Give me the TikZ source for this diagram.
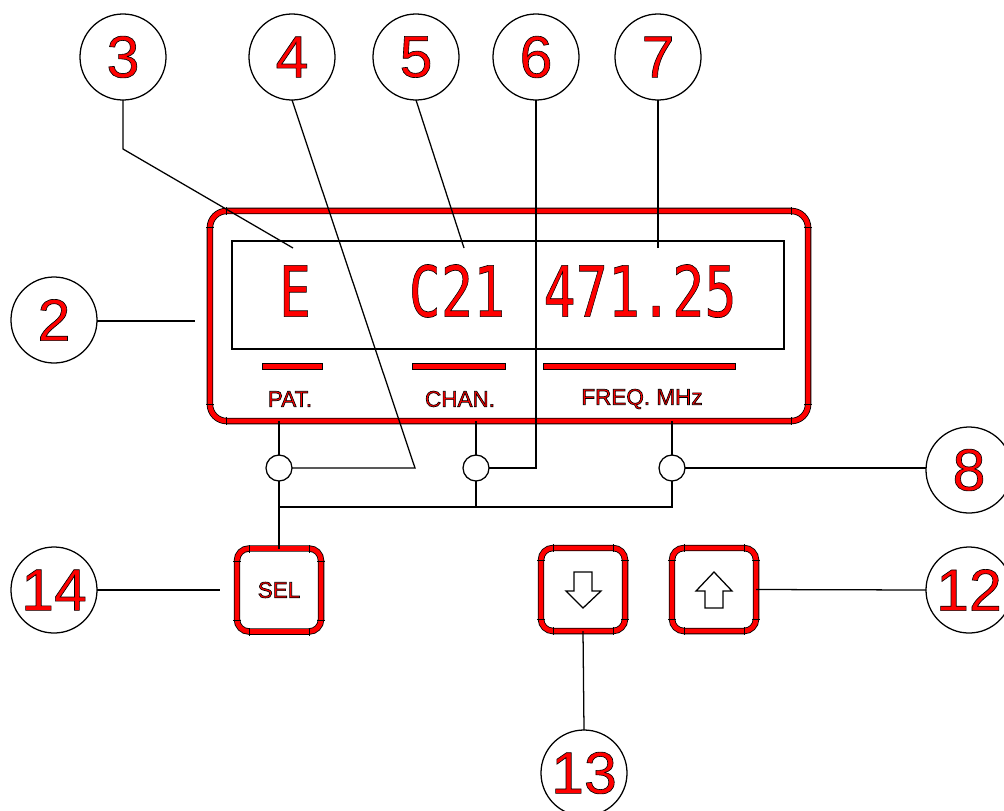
\documentclass[tikz,border=0pt]{standalone}
\usepackage{fontspec}
\setmainfont{Liberation Sans}
\newfontfamily\dispfont{DejaVu Sans Mono}
\usepackage{graphicx}
\usepackage{tikz}
\usetikzlibrary{positioning}
\definecolor{PanelRed}{RGB}{255,0,0}

% red letters with a thin black rim (fill, then stroke)
\newcommand{\redtxt}[1]{{\color{PanelRed}\special{pdf:literal direct q 0 0 0 RG 0.45 w 2 Tr}#1\special{pdf:literal direct Q}}}
% small black marks where the corner arcs meet the straight parts
\newcommand{\bandticks}[5]{%
  \foreach \tx in {#1+#5,#3-#5} {\draw[tick] (\tx,#2-4) -- (\tx,#2+4); \draw[tick] (\tx,#4-4) -- (\tx,#4+4);}
  \foreach \ty in {#2+#5,#4-#5} {\draw[tick] (#1-4,\ty) -- (#1+4,\ty); \draw[tick] (#3-4,\ty) -- (#3+4,\ty);}
}

\begin{document}
\begin{tikzpicture}[x=0.025cm,y=-0.025cm,
    every node/.style={inner sep=0pt,outer sep=0pt},
    callout/.style={circle,draw,line width=0.9pt,minimum size=2.15cm,font=\fontsize{42}{42}\selectfont},
    band/.style={draw=black,line width=0.6pt,double=PanelRed,double distance=3.4pt},
    key/.style={rectangle,band,rounded corners=0.3cm,minimum width=2.1cm,minimum height=2.075cm,font=\fontsize{16}{16}\selectfont},
    bar/.style={rectangle,draw=black,fill=PanelRed,line width=0.6pt,minimum height=0.13cm},
    joint/.style={circle,draw,line width=0.9pt,minimum size=0.65cm},
    label/.style={font=\fontsize{16}{16}\selectfont},
    digits/.style={font=\dispfont\fontsize{50}{50}\selectfont},
    lead/.style={line width=0.9pt},
    tick/.style={line width=0.6pt}]
  \useasboundingbox (0,0) rectangle (1004,810);

  % display panel
  \node[rectangle,band,rounded corners=0.42cm,minimum width=14.95cm,minimum height=5.25cm] (disp) at (509,316) {};
  \bandticks{210}{211}{808}{421}{16.8}
  \node[rectangle,draw,line width=0.9pt,minimum width=13.8cm,minimum height=2.7cm] (screen) at (508,295) {};
  \node[digits] (pat) at (295,291) {\redtxt{\scalebox{0.76}[1]{E}}};
  \node[digits] (chan) at (457,291) {\redtxt{\scalebox{0.76}[1]{C21}}};
  \node[digits] (freq) at (640,291) {\redtxt{\scalebox{0.76}[1]{471.25}}};
  \node[bar,minimum width=1.5cm] (bar1) at (292,366.5) {};
  \node[bar,minimum width=2.325cm] (bar2) at (458.5,366.5) {};
  \node[bar,minimum width=4.8cm] (bar3) at (639,366.5) {};
  \node[label] (lblpat) at (290,399) {\redtxt{PAT.}};
  \node[label] (lblchan) at (460,399) {\redtxt{CHAN.}};
  \node[label] (lblfreq) at (642,399) {\redtxt{FREQ. MHz}};

  % selection points
  \node[joint] (jA) at (279,468) {};
  \node[joint] (jB) at (476,468) {};
  \node[joint] (jC) at (672,468) {};
  \coordinate (busL) at (279,507);

  % keys
  \node[key] (sel) at (279,590) {\redtxt{SEL}};
  \bandticks{237}{549}{321}{632}{12}
  \node[key] (down) at (583,589.5) {};
  \bandticks{541}{548}{625}{631}{12}
  \node[key] (up) at (714,589.5) {};
  \bandticks{672}{548}{756}{631}{12}
  \draw[lead] (574,572) -- (592,572) -- (592,591) -- (601,591) -- (583,608) -- (566,591) -- (574,591) -- cycle;
  \draw[lead] (714,572) -- (732,591) -- (723,591) -- (723,608) -- (705,608) -- (705,591) -- (696,591) -- cycle;

  % callouts
  \node[callout] (c2) at (54,320) {\redtxt{2}};
  \node[callout] (c3) at (123,57) {\redtxt{3}};
  \node[callout] (c4) at (292,57) {\redtxt{4}};
  \node[callout] (c5) at (416,57) {\redtxt{5}};
  \node[callout] (c6) at (536,57) {\redtxt{6}};
  \node[callout] (c7) at (658,57) {\redtxt{7}};
  \node[callout] (c8) at (969,470) {\redtxt{8}};
  \node[callout] (c12) at (969,590) {\redtxt{12}};
  \node[callout] (c13) at (584,773) {\redtxt{13}};
  \node[callout] (c14) at (54,590) {\redtxt{14}};

  \coordinate (p2) at (195,321);
  \coordinate (k3) at (123,149);
  \coordinate (e3) at (293,248);
  \coordinate (k4) at (415,468);
  \coordinate (e5) at (464,248);
  \coordinate (e7) at (658,248);
  \coordinate (p14) at (220,590);

  % leaders
  \draw[lead] (c2.east |- p2) -- (p2);
  \draw[lead] (c3.south) -- (k3) -- (e3);
  \draw[lead] (c4.south) -- (k4) -- (jA.east);
  \draw[lead] (c5.south) -- (e5);
  \draw[lead] (c6.south) |- (jB.east);
  \draw[lead] (c7.south) -- (e7);
  \draw[lead] (jC.east) -- (jC.east -| c8.west);
  \draw[lead] (up.east) -- (c12.west);
  \draw[lead] (down.south) -- (c13.north);
  \draw[lead] (c14.east) -- (p14);

  % wiring below the panel
  \draw[lead] (jA.north) -- (jA.north |- disp.south);
  \draw[lead] (jB.north) -- (jB.north |- disp.south);
  \draw[lead] (jC.north) -- (jC.north |- disp.south);
  \draw[lead] (jA.south) -- (sel.north);
  \draw[lead] (jC.south) |- (busL);
  \draw[lead] (jB.south) -- (jB.south |- busL);
\end{tikzpicture}
\end{document}
